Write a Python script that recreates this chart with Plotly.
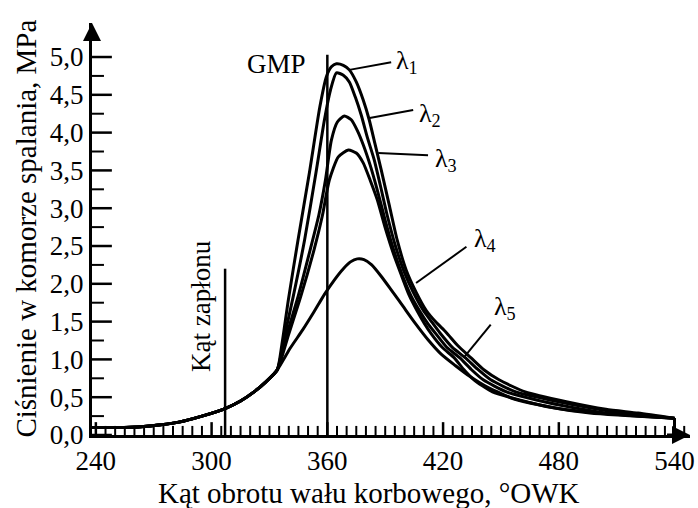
import plotly.graph_objects as go

# Crank angle [deg OWK] and cylinder pressure [MPa]
# Compression stroke, common to all five curves
compression_deg = [238, 255, 268, 283, 295, 307, 315, 322, 328, 334]
compression_mpa = [0.10, 0.10, 0.12, 0.17, 0.25, 0.35, 0.45, 0.57, 0.70, 0.86]

# Combustion + expansion for each excess-air ratio
lam1_deg = [336.4, 339.8, 344.8, 350.7, 356.1, 359.5, 362.1, 364.7, 368.3, 371.4, 375.0,
            378.6, 381.7, 384.8, 387.9, 392.1, 396.2, 400.9, 406.0, 411.2, 416.4, 421.5,
            427.7, 434.5, 441.3, 449.0, 462.6, 483.9, 504.4, 521.1, 540.0]
lam1_mpa = [1.19, 1.79, 2.58, 3.47, 4.34, 4.74, 4.87, 4.91, 4.89, 4.83, 4.67,
            4.43, 4.17, 3.84, 3.51, 3.04, 2.58, 2.18, 1.89, 1.65, 1.49, 1.36,
            1.18, 1.02, 0.86, 0.73, 0.57, 0.44, 0.34, 0.29, 0.22]

lam2_deg = [337.9, 342.3, 348.2, 354.1, 358.5, 361.6, 364.7, 368.3, 371.4, 374.5, 377.6,
            380.7, 384.3, 387.4, 391.0, 395.2, 399.8, 404.5, 409.7, 414.3, 418.4, 424.8,
            431.6, 437.9, 444.7, 457.7, 476.1, 496.1, 512.8, 540.0]
lam2_mpa = [1.32, 1.83, 2.58, 3.47, 4.17, 4.56, 4.79, 4.76, 4.67, 4.47, 4.23,
            3.94, 3.64, 3.31, 2.91, 2.51, 2.16, 1.89, 1.65, 1.49, 1.35, 1.16,
            1.02, 0.87, 0.73, 0.57, 0.46, 0.36, 0.29, 0.22]

lam3_deg = [338.9, 344.8, 351.1, 355.6, 359.0, 362.1, 365.2, 368.8, 372.4, 375.5, 378.6,
            382.2, 385.9, 390.0, 394.1, 398.8, 403.4, 408.1, 412.2, 415.9, 421.9, 428.7,
            434.5, 440.8, 452.9, 468.9, 487.8, 504.4, 540.0]
lam3_mpa = [1.32, 1.83, 2.45, 2.91, 3.37, 3.90, 4.14, 4.22, 4.17, 4.03, 3.84,
            3.57, 3.24, 2.84, 2.47, 2.12, 1.84, 1.63, 1.47, 1.35, 1.16, 1.02,
            0.87, 0.73, 0.57, 0.46, 0.36, 0.29, 0.22]

lam4_deg = [339.8, 346.2, 353.1, 357.5, 361.0, 365.7, 370.9, 375.0, 378.6, 382.2, 385.9,
            390.0, 394.1, 398.3, 402.4, 406.6, 410.2, 413.8, 419.5, 425.8, 430.6, 436.0,
            445.6, 460.2, 477.1, 496.1, 540.0]
lam4_mpa = [1.32, 1.83, 2.45, 2.91, 3.37, 3.68, 3.77, 3.73, 3.60, 3.37, 3.11,
            2.74, 2.41, 2.12, 1.85, 1.64, 1.48, 1.34, 1.16, 1.02, 0.87, 0.73,
            0.57, 0.46, 0.36, 0.29, 0.22]

lam5_deg = [340.8, 347.2, 353.1, 358.5, 363.6, 368.3, 372.0, 375.5, 379.0, 383.0, 387.9,
            393.1, 399.3, 405.5, 412.2, 419.0, 426.3, 433.6, 443.2, 457.7, 482.2, 515.6, 540.0]
lam5_mpa = [1.15, 1.39, 1.63, 1.86, 2.05, 2.20, 2.29, 2.33, 2.32, 2.25, 2.10,
            1.92, 1.70, 1.48, 1.26, 1.07, 0.92, 0.78, 0.63, 0.47, 0.34, 0.26, 0.22]

# Curve labels and their leader lines
label_text = ["λ<sub>1</sub>", "λ<sub>2</sub>", "λ<sub>3</sub>", "λ<sub>4</sub>", "λ<sub>5</sub>"]
label_deg = [394.7, 406.5, 414.8, 435.0, 445.6]
label_mpa = [4.93, 4.23, 3.64, 2.58, 1.68]
leader_from_deg = [371.4, 381.2, 386.4, 406.0, 430.6]
leader_from_mpa = [4.83, 4.19, 3.73, 2.01, 1.02]
leader_to_deg = [393.1, 404.5, 412.2, 432.1, 444.7]
leader_to_mpa = [4.93, 4.30, 3.70, 2.49, 1.46]

# Reference marks: top dead centre and ignition angle
gmp_deg, gmp_top = 360, 5.03
ignition_deg, ignition_top = 307, 2.2

# Axis graduation: labelled ticks and fine scale marks
x_ticks = [240, 300, 360, 420, 480, 540]
y_ticks = [0.0, 0.5, 1.0, 1.5, 2.0, 2.5, 3.0, 3.5, 4.0, 4.5, 5.0]
x_fine = [v for v in range(245, 548, 5) if v not in x_ticks]
y_fine = [q / 4 for q in range(1, 20, 2)]

X_RANGE = [238, 548]
Y_RANGE = [0, 5.45]
FONT = "Liberation Serif"
INK = "#000000"

# scale-mark lengths in axis units (pressure for x marks, angle for y marks)
X_MARK, X_FINE_MARK = 0.17, 0.12
Y_MARK, Y_FINE_MARK = 10.3, 6.2

fig = go.Figure()

curves = [(lam1_deg, lam1_mpa), (lam2_deg, lam2_mpa), (lam3_deg, lam3_mpa),
          (lam4_deg, lam4_mpa), (lam5_deg, lam5_mpa)]
for deg, mpa in curves:
    fig.add_trace(go.Scatter(
        x=compression_deg + deg, y=compression_mpa + mpa, mode="lines",
        line=dict(color=INK, width=3, shape="spline", smoothing=0.6),
        hoverinfo="skip"))
    # curve closes down to the axis at the end of the stroke
    fig.add_trace(go.Scatter(
        x=[deg[-1], deg[-1]], y=[mpa[-1], 0], mode="lines",
        line=dict(color=INK, width=2.5), hoverinfo="skip"))

# GMP and ignition vertical lines
fig.add_trace(go.Scatter(x=[gmp_deg, gmp_deg], y=[0, gmp_top], mode="lines",
                         line=dict(color=INK, width=2.5), hoverinfo="skip"))
fig.add_trace(go.Scatter(x=[ignition_deg, ignition_deg], y=[0, ignition_top], mode="lines",
                         line=dict(color=INK, width=2.5), hoverinfo="skip"))

# leader lines
for x0, y0, x1, y1 in zip(leader_from_deg, leader_from_mpa, leader_to_deg, leader_to_mpa):
    fig.add_trace(go.Scatter(x=[x0, x1], y=[y0, y1], mode="lines",
                             line=dict(color=INK, width=2), hoverinfo="skip"))

# inward scale marks along both axes, placed on the axes' own data scale
shapes = []
for values, length, width in [(x_ticks, X_MARK, 2.5), (x_fine, X_FINE_MARK, 2)]:
    for v in values:
        shapes.append(dict(type="line", xref="x", yref="y", x0=v, x1=v, y0=0, y1=length,
                           line=dict(color=INK, width=width), layer="above"))
for values, length, width in [(y_ticks, Y_MARK, 2.5), (y_fine, Y_FINE_MARK, 2)]:
    for v in values:
        shapes.append(dict(type="line", xref="x", yref="y", x0=X_RANGE[0],
                           x1=X_RANGE[0] + length, y0=v, y1=v,
                           line=dict(color=INK, width=width), layer="above"))

annotations = []
for txt, x, y in zip(label_text, label_deg, label_mpa):
    annotations.append(dict(x=x, y=y, xref="x", yref="y", text=txt, showarrow=False,
                            xanchor="left", yanchor="middle",
                            font=dict(family=FONT, size=26, color=INK)))

annotations += [
    dict(x=333.4, y=4.91, xref="x", yref="y", text="GMP", showarrow=False,
         font=dict(family=FONT, size=27, color=INK)),
    dict(x=294.6, y=1.71, xref="x", yref="y", text="Kąt zapłonu", showarrow=False,
         textangle=-90, font=dict(family=FONT, size=27, color=INK)),
    # axis titles
    dict(x=0.464, y=0, xref="paper", yref="paper", xanchor="center", yanchor="top",
         yshift=-40, text="Kąt obrotu wału korbowego, °OWK", showarrow=False,
         font=dict(family=FONT, size=29, color=INK)),
    dict(x=-0.111, y=0.5, xref="paper", yref="paper", xanchor="center", yanchor="middle",
         textangle=-90, text="Ciśnienie w komorze spalania, MPa", showarrow=False,
         font=dict(family=FONT, size=29, color=INK)),
    # axis arrows
    dict(x=548, y=0, xref="x", yref="y", ax=-26, ay=0, text=" ", showarrow=True,
         arrowhead=2, arrowsize=1.2, arrowwidth=3, arrowcolor=INK),
    dict(x=238, y=5.45, xref="x", yref="y", ax=0, ay=26, text=" ", showarrow=True,
         arrowhead=2, arrowsize=1.2, arrowwidth=3, arrowcolor=INK),
]

fig.update_layout(
    width=698, height=508,
    margin=dict(l=92, r=3, t=23, b=73),
    plot_bgcolor="white", paper_bgcolor="white",
    showlegend=False,
    separators=", ",
    font=dict(family=FONT, color=INK),
    annotations=annotations,
    shapes=shapes,
    xaxis=dict(range=X_RANGE, showgrid=False, zeroline=False,
               showline=True, linecolor=INK, linewidth=3,
               tickmode="array", tickvals=x_ticks, ticks="",
               ticklabeloverflow="allow",
               tickfont=dict(family=FONT, size=27, color=INK)),
    yaxis=dict(range=Y_RANGE, showgrid=False, zeroline=False,
               showline=True, linecolor=INK, linewidth=3,
               tickmode="array", tickvals=y_ticks, tickformat=".1f", ticks="",
               tickfont=dict(family=FONT, size=27, color=INK)),
)

fig.write_html("out.html")
